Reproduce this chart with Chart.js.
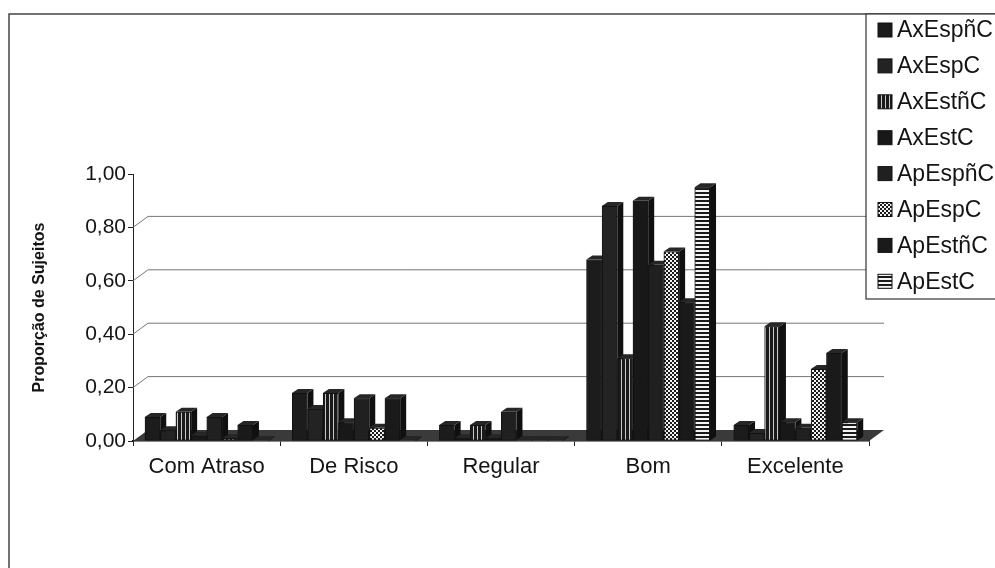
<!DOCTYPE html>
<html>
<head>
<meta charset="utf-8">
<title>Proporção de Sujeitos</title>
<script src="https://cdn.jsdelivr.net/npm/chart.js@4.4.0/dist/chart.umd.min.js"></script>
<style>
  html, body { margin: 0; padding: 0; background: #fff; }
  #wrap { position: relative; width: 995px; height: 568px; }
</style>
</head>
<body>
<div id="wrap"><canvas id="chart" width="995" height="568"></canvas></div>
<script>
// ---------- DATA ----------
const categories = ["Com Atraso", "De Risco", "Regular", "Bom", "Excelente"];
const seriesNames = ["AxEspñC", "AxEspC", "AxEstñC", "AxEstC", "ApEspñC", "ApEspC", "ApEstñC", "ApEstC"];

const axEspNC = [0.09, 0.18, 0.06, 0.68, 0.06];
const axEspC  = [0.04, 0.12, 0.01, 0.88, 0.03];
const axEstNC = [0.11, 0.18, 0.06, 0.31, 0.43];
const axEstC  = [0.02, 0.07, 0.01, 0.90, 0.07];
const apEspNC = [0.09, 0.16, 0.11, 0.66, 0.05];
const apEspC  = [0.01, 0.05, 0.00, 0.71, 0.27];
const apEstNC = [0.06, 0.16, 0.00, 0.52, 0.33];
const apEstC  = [0.00, 0.00, 0.00, 0.95, 0.07];

const yTickLabels = ["0,00", "0,20", "0,40", "0,60", "0,80", "1,00"];
const yTitle = "Proporção de Sujeitos";

// ---------- STYLE ----------
const FONT = "'Liberation Sans', Arial, sans-serif";
const INK = "#141414";
const DEPTH_X = 15, DEPTH_Y = 11;   // floor / back wall offset
const BAR_DX = 6, BAR_DY = 4;       // bar side + top face

function makePattern(kind) {
    const c = document.createElement("canvas");
    c.width = 4; c.height = 4;
    const g = c.getContext("2d");
    if (kind === "vstripe") {
        g.fillStyle = "#1a1a1a"; g.fillRect(0, 0, 4, 4);
        g.fillStyle = "#c8c8c8"; g.fillRect(1, 0, 1, 4);
    } else if (kind === "checker") {
        g.fillStyle = "#f4f4f4"; g.fillRect(0, 0, 4, 4);
        g.fillStyle = "#1a1a1a"; g.fillRect(0, 0, 2, 2); g.fillRect(2, 2, 2, 2);
    } else if (kind === "hstripe") {
        g.fillStyle = "#f4f4f4"; g.fillRect(0, 0, 4, 4);
        g.fillStyle = "#1a1a1a"; g.fillRect(0, 0, 4, 2);
    }
    return g.createPattern(c, "repeat");
}

const seriesValues = [axEspNC, axEspC, axEstNC, axEstC, apEspNC, apEspC, apEstNC, apEstC];
const seriesFills = ["#1c1c1c", "#232323", makePattern("vstripe"), "#181818",
                     "#202020", makePattern("checker"), "#1a1a1a", makePattern("hstripe")];

const datasets = seriesNames.map((name, i) => ({
    label: name,
    data: seriesValues[i],
    backgroundColor: seriesFills[i],
    borderColor: "#111",
    borderWidth: 1,
    borderSkipped: false
}));

// ---------- PLUGINS ----------
const frame3d = {
    id: "frame3d",
    beforeDraw(chart) {
        const ctx = chart.ctx;
        ctx.save();
        ctx.fillStyle = "#fff";
        ctx.fillRect(0, 0, chart.width, chart.height);
        ctx.strokeStyle = "#444";
        ctx.lineWidth = 1.5;
        ctx.beginPath();
        ctx.moveTo(9, chart.height);
        ctx.lineTo(9, 14);
        ctx.lineTo(chart.width, 14);
        ctx.stroke();
        ctx.restore();
    },
    beforeDatasetsDraw(chart) {
        const ctx = chart.ctx;
        const a = chart.chartArea;
        const y = chart.scales.y;
        ctx.save();
        // back wall gridlines + side wall slants
        ctx.strokeStyle = "#777";
        ctx.lineWidth = 1;
        for (let i = 1; i < yTickLabels.length - 1; i++) {
            const py = y.getPixelForValue(i * 0.2);
            ctx.beginPath();
            ctx.moveTo(a.left, py);
            ctx.lineTo(a.left + DEPTH_X, py - DEPTH_Y);
            ctx.lineTo(a.right + DEPTH_X, py - DEPTH_Y);
            ctx.stroke();
        }
        // floor
        ctx.fillStyle = "#3a3a3a";
        ctx.beginPath();
        ctx.moveTo(a.left, a.bottom);
        ctx.lineTo(a.right, a.bottom);
        ctx.lineTo(a.right + DEPTH_X, a.bottom - DEPTH_Y);
        ctx.lineTo(a.left + DEPTH_X, a.bottom - DEPTH_Y);
        ctx.closePath();
        ctx.fill();
        ctx.restore();
    },
    afterDatasetsDraw(chart) {
        // redraw bars left to right with side and top faces
        const ctx = chart.ctx;
        ctx.save();
        chart.data.datasets.forEach((ds, i) => {
            const meta = chart.getDatasetMeta(i);
            meta.data.forEach(bar => {
                const left = bar.x - bar.width / 2;
                const right = bar.x + bar.width / 2;
                const top = Math.min(bar.y, bar.base - 1);
                ctx.fillStyle = "#101010";
                ctx.beginPath();
                ctx.moveTo(right, bar.base);
                ctx.lineTo(right, top);
                ctx.lineTo(right + BAR_DX, top - BAR_DY);
                ctx.lineTo(right + BAR_DX, bar.base - BAR_DY);
                ctx.closePath();
                ctx.fill();
                ctx.fillStyle = "#262626";
                ctx.beginPath();
                ctx.moveTo(left, top);
                ctx.lineTo(left + BAR_DX, top - BAR_DY);
                ctx.lineTo(right + BAR_DX, top - BAR_DY);
                ctx.lineTo(right, top);
                ctx.closePath();
                ctx.fill();
                bar.draw(ctx, chart.chartArea);
            });
        });
        ctx.restore();
    },
    afterDraw(chart) {
        // legend box
        const ctx = chart.ctx;
        ctx.save();
        ctx.fillStyle = "#fff";
        ctx.strokeStyle = "#333";
        ctx.lineWidth = 1.2;
        ctx.fillRect(866, 14, 140, 285);
        ctx.strokeRect(866, 14, 140, 285);
        ctx.font = "23px " + FONT;
        ctx.textBaseline = "middle";
        seriesNames.forEach((name, i) => {
            const cy = 30 + i * 35.9;
            ctx.fillStyle = seriesFills[i];
            ctx.fillRect(878, cy - 7, 14, 14);
            ctx.strokeStyle = "#111";
            ctx.lineWidth = 1;
            ctx.strokeRect(878, cy - 7, 14, 14);
            ctx.fillStyle = INK;
            ctx.fillText(name, 897, cy + 1);
        });
        ctx.restore();
    }
};

// ---------- CHART ----------
new Chart(document.getElementById("chart"), {
    type: "bar",
    data: { labels: categories, datasets: datasets },
    options: {
        responsive: false,
        animation: false,
        devicePixelRatio: 1,
        layout: { padding: { left: 0, right: 126, top: 174, bottom: 82 } },
        datasets: { bar: { categoryPercentage: 0.84, barPercentage: 1.0 } },
        plugins: { legend: { display: false }, tooltip: { enabled: false } },
        scales: {
            x: {
                grid: { drawOnChartArea: false, drawTicks: true, tickLength: 5, color: "#222", offset: true },
                border: { display: true, color: "#111", width: 1.5 },
                ticks: { color: INK, font: { family: FONT, size: 22 }, padding: 8, maxRotation: 0 },
                afterFit: s => { s.height = 45; }
            },
            y: {
                min: 0,
                max: 1,
                ticks: {
                    stepSize: 0.2,
                    autoSkip: false,
                    color: INK,
                    padding: 2,
                    font: { family: FONT, size: 21 },
                    callback: (v, i) => yTickLabels[i]
                },
                grid: { drawOnChartArea: false, drawTicks: true, tickLength: 5, color: "#222" },
                border: { display: true, color: "#222", width: 1 },
                title: {
                    display: true,
                    text: yTitle,
                    color: INK,
                    font: { family: FONT, size: 16, weight: "bold" },
                    padding: { top: 30, bottom: 0 }
                },
                afterFit: s => { s.width = 133; }
            }
        }
    },
    plugins: [frame3d]
});
</script>
</body>
</html>
